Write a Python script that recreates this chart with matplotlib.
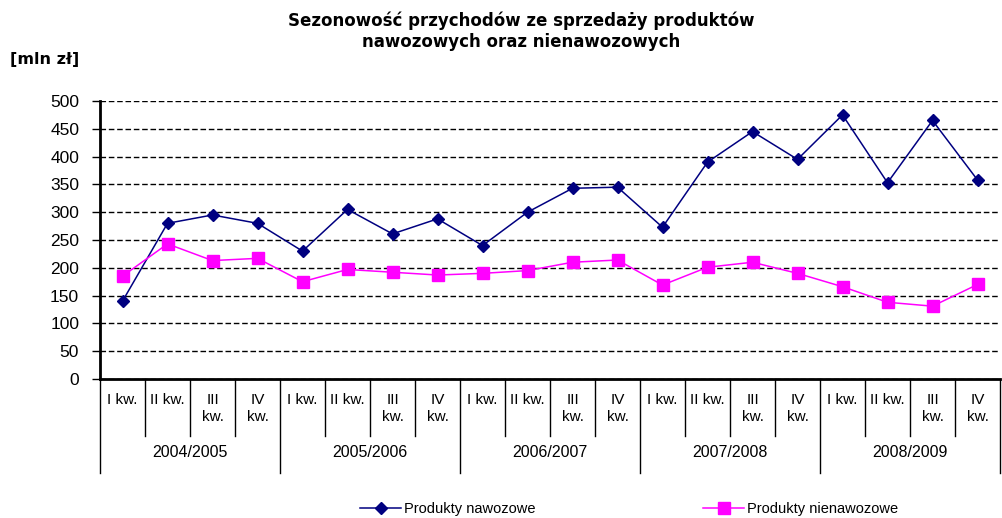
import numpy as np
import matplotlib.pyplot as plt

# -- data --
years = ["2004/2005", "2005/2006", "2006/2007", "2007/2008", "2008/2009"]
quarters = ["I kw.", "II kw.", "III\nkw.", "IV\nkw."]
nawozowe = [140, 280, 295, 280, 230, 305, 261, 288, 240, 300,
            343, 345, 273, 390, 445, 395, 475, 353, 465, 358]
nienawozowe = [185, 243, 213, 217, 175, 197, 192, 187, 190, 195,
               210, 214, 169, 201, 210, 190, 166, 138, 131, 170]

plt.rcParams['font.family'] = ['Liberation Sans', 'DejaVu Sans']
narrow = ['Liberation Sans Narrow', 'Liberation Sans', 'DejaVu Sans']

fig = plt.figure(figsize=(10.02, 5.18), dpi=100)
ax = fig.add_axes([100/1002, 1-379/518, 900/1002, 278/518])

x = np.arange(len(nawozowe))
ax.plot(x, nawozowe, color='#000080', marker='D', markersize=6, lw=1.1,
        label='Produkty nawozowe')
ax.plot(x, nienawozowe, color='#FF00FF', marker='s', markersize=9, lw=1.1,
        label='Produkty nienawozowe')

ax.set_xlim(-0.5, len(x) - 0.5)
ax.set_ylim(0, 500)
ax.set_yticks(np.arange(0, 501, 50))
ax.tick_params(axis='y', labelsize=12.5, length=6, width=1, direction='out', pad=9)
ax.set_xticks([])
ax.grid(axis='y', color='black', linestyle=(0, (4, 2)), lw=1)
for s in ['top', 'right']:
    ax.spines[s].set_visible(False)
ax.spines['left'].set_linewidth(2)
ax.spines['bottom'].set_linewidth(2)

# -- two-level category axis --
tr = ax.get_xaxis_transform()
for i in range(len(x) + 1):
    bottom = -0.338 if i % 4 == 0 else -0.205
    ax.plot([i - 0.5, i - 0.5], [0, bottom], color='black', lw=1,
            transform=tr, clip_on=False)
for i in range(len(x)):
    ax.text(i, -0.05, quarters[i % 4], transform=tr, ha='center', va='top',
            fontsize=11, family=narrow, linespacing=1.3)
for j, y in enumerate(years):
    ax.text(j * 4 + 1.5, -0.265, y, transform=tr, ha='center', va='center',
            fontsize=11.5, family=narrow)

fig.text(0.52, 0.94, "Sezonowość przychodów ze sprzedaży produktów\nnawozowych oraz nienawozowych",
         ha='center', va='center', fontsize=12, fontweight='bold', linespacing=1.2,
         family='DejaVu Sans')
fig.text(0.01, 0.886, "[mln zł]", ha='left', va='center', fontsize=11.5,
         fontweight='bold', family='DejaVu Sans')

leg = fig.legend(loc='center', bbox_to_anchor=(0.628, 0.017), ncol=2, frameon=False,
                 columnspacing=11.5, handlelength=2.8, handletextpad=0.2,
                 prop={'family': narrow, 'size': 10.5})

fig.savefig('out.png', dpi=100)
